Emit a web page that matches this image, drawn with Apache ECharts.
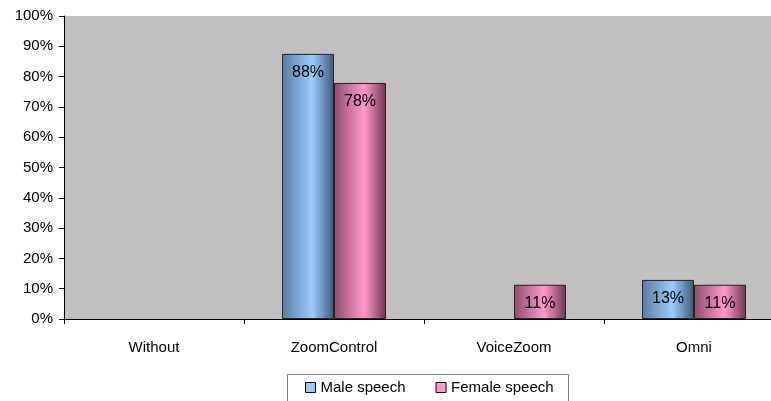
<!DOCTYPE html>
<html>
<head>
<meta charset="utf-8">
<script src="https://cdn.jsdelivr.net/npm/echarts@6/dist/echarts.min.js"></script>
<style>
  html, body { margin: 0; padding: 0; background: #fff; }
  #chart { width: 771px; height: 401px; }
</style>
</head>
<body>
<div id="chart"></div>
<script>
// chart data
const categories = ['Without', 'ZoomControl', 'VoiceZoom', 'Omni']
const maleSpeech = [null, 87.5, null, 12.9]
const femaleSpeech = [null, 77.9, 11.3, 11.3]
const yTicks = [0, 10, 20, 30, 40, 50, 60, 70, 80, 90, 100]

const font = 'Liberation Sans, Arial, sans-serif'

// horizontal gradient like the old office bars
function barGradient(dark, light, darker) {
  return new echarts.graphic.LinearGradient(0, 0, 1, 0, [
    { offset: 0, color: dark },
    { offset: 0.58, color: light },
    { offset: 1, color: darker },
  ])
}

const chart = echarts.init(document.getElementById('chart'))

const labelOpt = {
  show: true,
  position: 'insideTop',
  distance: 11,
  color: '#000',
  fontFamily: font,
  fontSize: 16,
  formatter: (p) => Math.round(p.value) + '%',
}

chart.setOption({
  animation: false,
  // plot runs past the right edge of the picture, as in the reference
  grid: {
    left: 64,
    top: 16,
    width: 720,
    height: 303,
    containLabel: false,
    outerBoundsMode: 'none',
  },
  // legend frame runs off the bottom of the picture
  graphic: [
    {
      type: 'rect',
      shape: { x: 287.5, y: 374.5, width: 281, height: 40 },
      style: { fill: 'none', stroke: '#808080', lineWidth: 1 },
      silent: true,
    },
  ],
  legend: {
    left: 287,
    top: 374,
    itemWidth: 10,
    itemHeight: 10,
    itemGap: 30,
    padding: [6, 14, 6, 18],
    icon: 'rect',
    textStyle: { fontFamily: font, fontSize: 15, color: '#000' },
    data: [
      { name: 'Male speech', itemStyle: { color: '#99ccff', borderColor: '#000', borderWidth: 1 } },
      { name: 'Female speech', itemStyle: { color: '#ff99cc', borderColor: '#000', borderWidth: 1 } },
    ],
  },
  xAxis: {
    type: 'category',
    data: categories,
    axisLine: { lineStyle: { color: '#000', width: 1 } },
    axisTick: { show: true, length: 5, lineStyle: { color: '#000' } },
    axisLabel: { color: '#000', fontFamily: font, fontSize: 15, margin: 21 },
    splitArea: { show: true, areaStyle: { color: ['#c0c0c0'] } },
  },
  yAxis: {
    type: 'value',
    min: yTicks[0],
    max: yTicks[yTicks.length - 1],
    interval: 10,
    axisLine: { show: true, lineStyle: { color: '#000' } },
    axisTick: { show: true, length: 5, lineStyle: { color: '#000' } },
    axisLabel: {
      color: '#000',
      fontFamily: font,
      fontSize: 15,
      margin: 11,
      formatter: '{value}%',
    },
    splitLine: { lineStyle: { color: '#000', width: 1 } },
  },
  series: [
    {
      name: 'Male speech',
      type: 'bar',
      data: maleSpeech,
      barWidth: 52,
      barGap: '0%',
      itemStyle: {
        color: barGradient('#5a7d9e', '#99ccff', '#3d5a78'),
        borderColor: '#222',
        borderWidth: 1,
      },
      label: labelOpt,
    },
    {
      name: 'Female speech',
      type: 'bar',
      data: femaleSpeech,
      barWidth: 52,
      barGap: '0%',
      itemStyle: {
        color: barGradient('#8e4d6e', '#ff99cc', '#6e3552'),
        borderColor: '#222',
        borderWidth: 1,
      },
      label: labelOpt,
    },
  ],
})
</script>
</body>
</html>
